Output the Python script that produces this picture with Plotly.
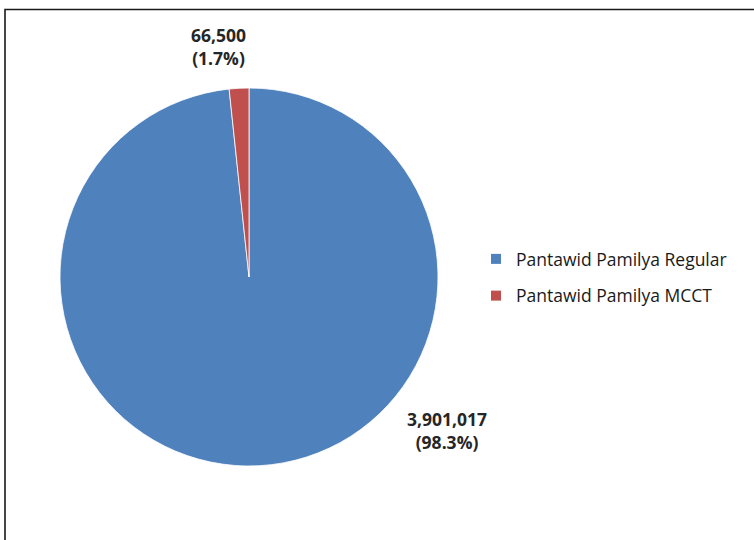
import plotly.graph_objects as go

labels = ["Pantawid Pamilya Regular", "Pantawid Pamilya MCCT"]
values = [3901017, 66500]
colors = ["#4F81BD", "#C0504D"]

total = sum(values)
texts = [f"{v:,}<br>({v / total * 100:.1f}%)" for v in values]

W, H = 754, 540
cx, cy, r = 249, 277, 189

fig = go.Figure()
fig.add_trace(go.Pie(
    labels=labels, values=values, sort=False, direction="clockwise", rotation=0,
    marker=dict(colors=colors, line=dict(color="white", width=0.8)),
    textinfo="none", hoverinfo="label+value+percent", showlegend=False,
    domain=dict(x=[(cx - r) / W, (cx + r) / W], y=[1 - (cy + r) / H, 1 - (cy - r) / H]),
))

# legend entries (one group per label so the row gap can match)
for i, (lab, col) in enumerate(zip(labels, colors)):
    fig.add_trace(go.Scatter(
        x=[None], y=[None], mode="markers", name=lab, legendgroup=f"g{i}",
        marker=dict(symbol="square", size=10, color=col),
        showlegend=True, hoverinfo="skip",
    ))

# data labels
label_pos = [(447, 430), (218, 47)]
for t, (px, py) in zip(texts, label_pos):
    fig.add_annotation(
        x=px / W, y=1 - py / H, xref="paper", yref="paper", text=f"<b>{t}</b>",
        showarrow=False, align="center", xanchor="center", yanchor="middle",
        font=dict(family="Open Sans", size=17.5, color="#262626"),
    )

fig.add_shape(type="rect", xref="paper", yref="paper",
              x0=5 / W, x1=1.02, y0=-0.02, y1=1 - 9.5 / H,
              line=dict(color="#1a1a1a", width=1.6), layer="above")

fig.update_layout(
    width=W, height=H, margin=dict(l=0, r=0, t=0, b=0),
    paper_bgcolor="white", plot_bgcolor="white",
    xaxis=dict(visible=False), yaxis=dict(visible=False),
    showlegend=True,
    legend=dict(x=476 / W, y=1 - 241 / H, xanchor="left", yanchor="top",
                font=dict(family="Open Sans", size=17.5, color="#1a1a1a"),
                itemwidth=30, tracegroupgap=11,
                itemclick=False, itemdoubleclick=False),
)

fig.write_html("out.html", config={"displayModeBar": False},
               post_script="document.body.style.margin='0';document.body.style.padding='0';")
